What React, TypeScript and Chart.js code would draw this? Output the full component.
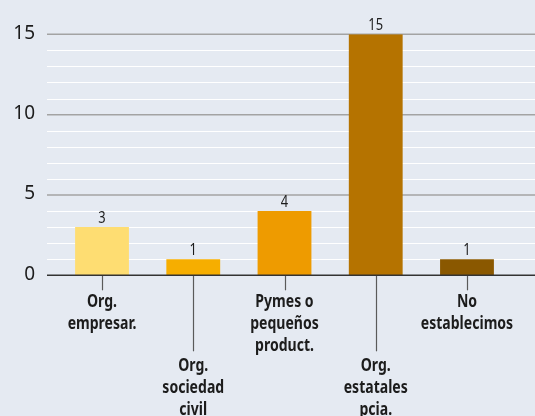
import React, { useEffect, useRef } from "react";
import { Chart, registerables } from "chart.js";

Chart.register(...registerables);

const categories: string[][] = [
  ["Org.", "empresar."],
  ["Org.", "sociedad", "civil"],
  ["Pymes o", "pequeños", "product."],
  ["Org.", "estatales", "pcia."],
  ["No", "establecimos"],
];
const values: number[] = [3, 1, 4, 15, 1];
const yTicks: number[] = [0, 5, 10, 15];
const minorTicks: number[] = [1, 2, 3, 4, 6, 7, 8, 9, 11, 12, 13, 14];
const barColors: string[] = ["#fedd72", "#f6ae00", "#ee9b00", "#b57300", "#8a5800"];

const FONT = "'Noto Sans', sans-serif";
const TEXT = "#1c1c1c";

function condensedText(ctx: CanvasRenderingContext2D, text: string, x: number, y: number, sx: number) {
  ctx.save();
  ctx.translate(x, y);
  ctx.scale(sx, 1);
  ctx.fillText(text, 0, 0);
  ctx.restore();
}

const drawPlugin = {
  id: "customDraw",
  beforeDatasetsDraw(chart: any) {
    const { ctx } = chart;
    const ys = chart.scales.y;
    const x0 = 47;
    const x1 = chart.width;
    ctx.save();
    ctx.strokeStyle = "#ffffff";
    ctx.lineWidth = 1.2;
    minorTicks.forEach((v) => {
      const py = Math.round(ys.getPixelForValue(v)) + 0.5;
      ctx.beginPath();
      ctx.moveTo(x0, py);
      ctx.lineTo(x1, py);
      ctx.stroke();
    });
    ctx.strokeStyle = "#a3a3a3";
    ctx.lineWidth = 1.5;
    yTicks.forEach((v) => {
      if (v === 0) return;
      const py = ys.getPixelForValue(v);
      ctx.beginPath();
      ctx.moveTo(x0, py);
      ctx.lineTo(x1, py);
      ctx.stroke();
    });
    ctx.restore();
  },
  afterDatasetsDraw(chart: any) {
    const { ctx } = chart;
    const ys = chart.scales.y;
    const xs = chart.scales.x;
    const x0 = 47;
    const x1 = chart.width;
    const zeroY = ys.getPixelForValue(0);
    ctx.save();
    // x tick marks
    ctx.strokeStyle = "#5a5a5a";
    ctx.lineWidth = 1.2;
    categories.forEach((_, i) => {
      const px = Math.round(xs.getPixelForValue(i)) + 0.5;
      ctx.beginPath();
      ctx.moveTo(px, zeroY);
      ctx.lineTo(px, i % 2 === 0 ? zeroY + 15 : zeroY + 76);
      ctx.stroke();
    });
    // axis line
    ctx.strokeStyle = "#333333";
    ctx.lineWidth = 1.5;
    ctx.beginPath();
    ctx.moveTo(x0, zeroY);
    ctx.lineTo(x1, zeroY);
    ctx.stroke();
    // y tick labels
    ctx.fillStyle = TEXT;
    ctx.font = "19px " + FONT;
    ctx.textAlign = "right";
    ctx.textBaseline = "alphabetic";
    yTicks.forEach((v) => {
      ctx.fillText(String(v), 35, ys.getPixelForValue(v) + 4.5);
    });
    // value labels
    ctx.font = "17px " + FONT;
    ctx.textAlign = "center";
    values.forEach((v, i) => {
      condensedText(ctx, String(v), xs.getPixelForValue(i), ys.getPixelForValue(v) - 4.5, 0.76);
    });
    // category labels
    ctx.font = "bold 18px " + FONT;
    categories.forEach((lines, i) => {
      const base = i % 2 === 0 ? zeroY + 31.5 : zeroY + 96;
      lines.forEach((line, j) => {
        condensedText(ctx, line, xs.getPixelForValue(i), base + j * 22, 0.78);
      });
    });
    ctx.restore();
  },
};

export default function App() {
  const canvasRef = useRef<HTMLCanvasElement | null>(null);

  useEffect(() => {
    document.body.style.margin = "0";
    const canvas = canvasRef.current;
    if (!canvas) return;
    const chart = new Chart(canvas, {
      type: "bar",
      data: {
        labels: categories.map((c) => c.join(" ")),
        datasets: [
          {
            data: values,
            backgroundColor: barColors,
            borderWidth: 0,
            barPercentage: 0.59,
            categoryPercentage: 1,
          },
        ],
      },
      options: {
        responsive: false,
        animation: false,
        devicePixelRatio: 1,
        layout: { padding: { left: 56.4, right: 22.4, top: 34.3, bottom: 140.7 } },
        plugins: { legend: { display: false }, tooltip: { enabled: false } },
        scales: {
          x: { display: false },
          y: { display: false, min: 0, max: 15 },
        },
      },
      plugins: [drawPlugin],
    });
    return () => chart.destroy();
  }, []);

  return (
    <div style={{ width: 535, height: 416, background: "#e5eaf2" }}>
      <canvas ref={canvasRef} width={535} height={416} style={{ display: "block" }} />
    </div>
  );
}
